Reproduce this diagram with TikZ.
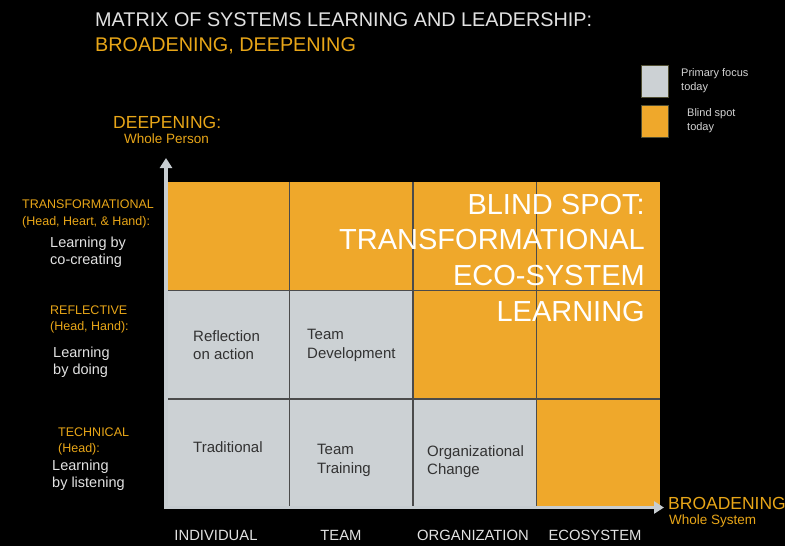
\documentclass[tikz,border=0pt]{standalone}
\usepackage{fontspec}
\setmainfont{Liberation Sans}
\usetikzlibrary{arrows.meta}
\definecolor{blindorange}{RGB}{239,168,43}
\definecolor{focusgray}{RGB}{204,209,212}
\definecolor{axisgray}{RGB}{199,205,209}
\definecolor{gold}{RGB}{232,166,24}
\definecolor{gridline}{RGB}{75,75,75}
\definecolor{celltext}{RGB}{50,50,50}
\definecolor{softwhite}{RGB}{226,226,226}
\definecolor{keyedge}{RGB}{80,78,50}
\tikzset{
  titleline/.style={anchor=base west, inner sep=0pt, font=\fontsize{19.8}{24}\selectfont},
  level/.style={anchor=north west, inner sep=0pt, align=left, text=gold, font=\fontsize{12.5}{16.5}\selectfont},
  mode/.style={anchor=north west, inner sep=0pt, align=left, text=softwhite, font=\fontsize{14.5}{17}\selectfont},
  celllabel/.style={anchor=north west, inner sep=0pt, align=left, text=celltext, font=\fontsize{15}{18.5}\selectfont},
  scalelabel/.style={anchor=base, inner sep=0pt, text=softwhite, font=\fontsize{14.8}{18}\selectfont},
  axisname/.style={anchor=base west, inner sep=0pt, text=gold, font=\fontsize{17.5}{20}\selectfont},
  axissub/.style={anchor=base west, inner sep=0pt, text=gold, font=\fontsize{13.5}{16}\selectfont},
  keybox/.style={draw=keyedge, line width=0.8pt, minimum width=27pt, minimum height=32pt, inner sep=0pt},
  keytext/.style={anchor=north west, inner sep=0pt, align=left, text=softwhite!85!gray, font=\fontsize{11}{14}\selectfont},
  blindtext/.style={anchor=north east, inner sep=0pt, align=right, text=white, font=\fontsize{29}{35.7}\selectfont},
  axisarrow/.style={draw=axisgray, line width=3.5pt, -{Triangle[width=12pt,length=10pt]}},
  gridrule/.style={draw=gridline, line width=1.3pt},
}

\begin{document}
\begin{tikzpicture}[x=1pt, y=-1pt]
    \useasboundingbox (0,0) rectangle (785,546);
    \fill[black] (0,0) rectangle (785,546);

    % title
    \node[titleline, text=softwhite] (title) at (95,27) {MATRIX OF SYSTEMS LEARNING AND LEADERSHIP:};
    \node[titleline, text=gold] (subtitle) at (95,51) {BROADENING, DEEPENING};

    % legend
    \node[keybox, fill=focusgray] (focuskey) at (654.5,81) {};
    \node[keybox, fill=blindorange] (blindkey) at (654.5,121) {};
    \node[keytext] (focusnote) at (681,68) {Primary focus\\today};
    \node[keytext] (blindnote) at (687,108) {Blind spot\\today};

    % cells
    \foreach \col/\row/\shade in {0/0/blindorange, 1/0/blindorange, 2/0/blindorange, 3/0/blindorange,
                                  0/1/focusgray, 1/1/focusgray, 2/1/blindorange, 3/1/blindorange,
                                  0/2/focusgray, 1/2/focusgray, 2/2/focusgray, 3/2/blindorange}
        \fill[\shade] ({166+123.5*\col},{182+108.5*\row}) rectangle +(123.5,108.5);
    \foreach \col in {1,2,3}
        \draw[gridrule] ({166+123.5*\col},182) -- ({166+123.5*\col},507.5);
    \foreach \row in {1,2}
        \draw[gridrule] (167,{182+108.5*\row}) -- (660,{182+108.5*\row});

    % axes
    \coordinate (origin) at (166,509.2);
    \coordinate (xstart) at (164.3,507.5);
    \coordinate (ytip) at (166,158);
    \coordinate (xtip) at (664,507.5);
    \draw[axisarrow] (origin) -- (ytip);
    \draw[axisarrow] (xstart) -- (xtip);

    \node[axisname] (deepening) at (113,128) {DEEPENING:};
    \node[axissub] (person) at (124,143) {Whole Person};
    \node[axisname] (broadening) at (668,509) {BROADENING};
    \node[axissub] (system) at (669,524) {Whole System};

    % depth levels
    \node[level] (transform) at (22,200) {TRANSFORMATIONAL\\(Head, Heart, \& Hand):};
    \node[mode] (cocreate) at (50,236.4) {Learning by\\co-creating};
    \node[level] (reflective) at (50,305.5) {REFLECTIVE\\(Head, Hand):};
    \node[mode] (doing) at (53,346.4) {Learning\\by doing};
    \node[level] (technical) at (58,427.5) {TECHNICAL\\(Head):};
    \node[mode] (listening) at (52,459.4) {Learning\\by listening};

    % breadth levels
    \node[scalelabel] (individual) at (216,540.5) {INDIVIDUAL};
    \node[scalelabel] (team) at (341,540.5) {TEAM};
    \node[scalelabel] (organization) at (473,540.5) {ORGANIZATION};
    \node[scalelabel] (ecosystem) at (595,540.5) {ECOSYSTEM};

    % cell texts
    \node[celllabel] (reflection) at (193,330) {Reflection\\on action};
    \node[celllabel] (teamdev) at (307,329) {Team\\Development};
    \node[celllabel] (traditional) at (193,441) {Traditional};
    \node[celllabel] (teamtrain) at (317,444) {Team\\Training};
    \node[celllabel] (orgchange) at (427,445) {Organizational\\Change};
    \node[blindtext] (blindspot) at (645,193.8) {BLIND SPOT:\\TRANSFORMATIONAL\\ECO-SYSTEM\\LEARNING};
\end{tikzpicture}
\end{document}
